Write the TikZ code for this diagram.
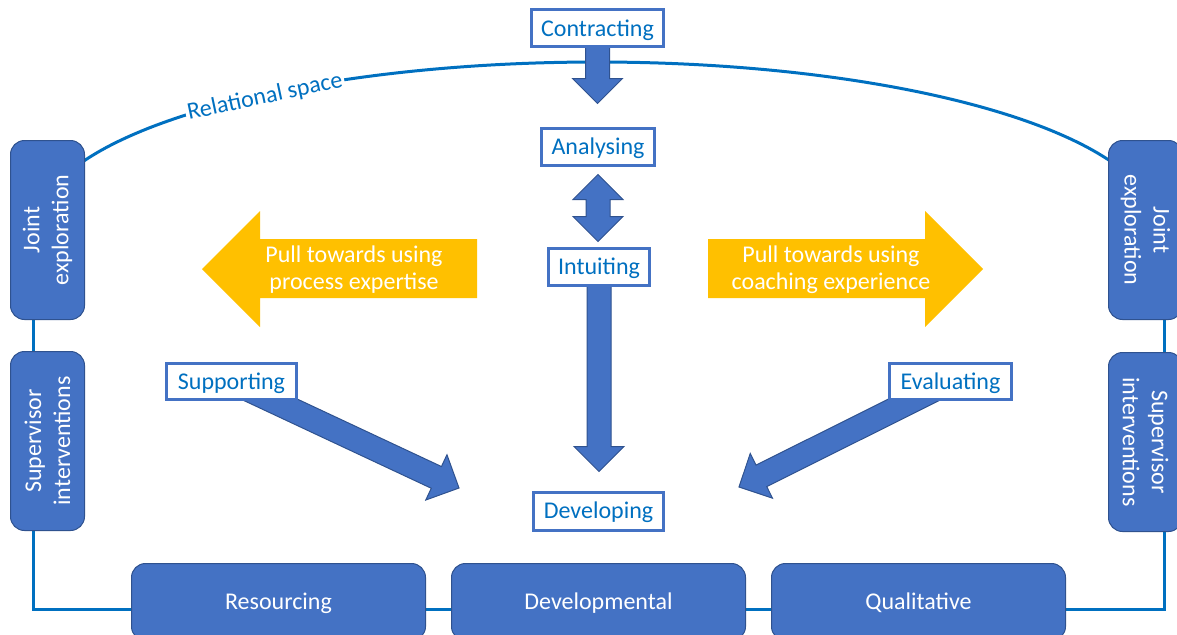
\documentclass[tikz,border=0pt]{standalone}
\usepackage{fontspec}
\setmainfont{Carlito}
\usetikzlibrary{calc}
\definecolor{accent}{HTML}{4472C4}
\definecolor{accentdark}{HTML}{2F528F}
\definecolor{linkblue}{HTML}{0070C0}
\definecolor{gold}{HTML}{FFC000}
\pgfdeclarelayer{lines}
\pgfdeclarelayer{arrows}
\pgfsetlayers{lines,arrows,main}

% block arrow: #1 tail, #2 tip, #3 prefix for helper coordinates
\newcommand\blockarrow[3]{%
  \coordinate (#3h) at ($(#2)!25pt!(#1)$);
  \path[blockarrow] ($(#1)!12pt!90:(#2)$) -- ($(#3h)!12pt!90:(#2)$)
    -- ($(#3h)!25pt!90:(#2)$) -- (#2) -- ($(#3h)!25pt!-90:(#2)$)
    -- ($(#3h)!12pt!-90:(#2)$) -- ($(#1)!12pt!-90:(#2)$) -- cycle;
}
% double-headed block arrow between two tips
\newcommand\dblarrow[3]{%
  \coordinate (#3a) at ($(#1)!25pt!(#2)$);
  \coordinate (#3b) at ($(#2)!25pt!(#1)$);
  \path[blockarrow] (#1) -- ($(#3a)!25pt!90:(#2)$) -- ($(#3a)!12pt!90:(#2)$)
    -- ($(#3b)!12pt!90:(#2)$) -- ($(#3b)!25pt!90:(#2)$) -- (#2)
    -- ($(#3b)!25pt!-90:(#2)$) -- ($(#3b)!12pt!-90:(#2)$)
    -- ($(#3a)!12pt!-90:(#2)$) -- ($(#3a)!25pt!-90:(#2)$) -- cycle;
}

\begin{document}
\begin{tikzpicture}[x=1pt,y=-1pt,
  font=\fontsize{24}{29}\selectfont,
  outlinebox/.style={draw=accent, line width=3pt, fill=white, text=linkblue,
    minimum height=37, inner sep=0pt, text height=15.5pt, text depth=0pt},
  sidebox/.style={draw=accentdark, line width=1pt, fill=accent, text=white,
    rounded corners=14pt, align=center, inner sep=0pt,
    minimum width=179, minimum height=74},
  basebox/.style={draw=accentdark, line width=1pt, fill=accent, text=white,
    rounded corners=14pt, minimum width=294, minimum height=77, inner sep=0pt,
    text height=15.5pt, text depth=0pt},
  link/.style={draw=linkblue, line width=3pt},
  blockarrow/.style={fill=accent, draw=accentdark, line width=1pt},
  pull/.style={fill=gold},
  pulltext/.style={text=white, align=center, font=\fontsize{24}{27}\selectfont},
]
\useasboundingbox (0,0) rectangle (1177,634);
\clip (0,0) rectangle (1177,634);

% process steps
\node[outlinebox, minimum width=132] (con) at (597.5,28.5) {Contracting};
\node[outlinebox, minimum width=113] (ana) at (598,146.5) {Analysing};
\node[outlinebox, minimum width=101] (int) at (599,266.5) {Intuiting};
\node[outlinebox, minimum width=130, minimum height=38] (dev) at (598.5,511) {Developing};
\node[outlinebox, minimum width=130, minimum height=36] (sup) at (231.5,381.5) {Supporting};
\node[outlinebox, minimum width=122, minimum height=36] (eva) at (950.5,381.5) {Evaluating};

% side panels
\node[sidebox, rotate=90] (jl) at (47.5,230) {Joint\\exploration};
\node[sidebox, rotate=90] (sl) at (47.5,441) {Supervisor\\interventions};
\node[sidebox, rotate=-90] (jr) at (1145.5,230) {Joint\\exploration};
\node[sidebox, rotate=-90] (sr) at (1145.5,442) {Supervisor\\interventions};

% base row
\node[basebox] (res) at (278.5,602) {Resourcing};
\node[basebox] (dvm) at (598.5,602) {Developmental};
\node[basebox] (qual) at (918.5,602) {Qualitative};

% relational space arc and frame lines
\begin{pgfonlayer}{lines}
  \draw[link] plot[domain=158:22, samples=120] ({597+560*cos(\x)}, {227-165*sin(\x)});
  \coordinate (lx) at (33,0);
  \coordinate (rx) at (1164,0);
  \coordinate (bus) at (0,609);
  \draw[link] (lx |- jl.west) -- (lx |- sl.east);
  \draw[link] (rx |- jr.east) -- (rx |- sr.west);
  \draw[link] (lx |- sl.west) -- (lx |- bus) -- (res.west |- bus);
  \draw[link] (res.east |- bus) -- (dvm.west |- bus);
  \draw[link] (dvm.east |- bus) -- (qual.west |- bus);
  \draw[link] (qual.east |- bus) -- (rx |- bus) -- (rx |- sr.east);
\end{pgfonlayer}

\node[fill=white, text=linkblue, rotate=12, inner sep=2pt] (rel) at (265,97) {Relational space};

% flow arrows
\begin{pgfonlayer}{arrows}
  \coordinate (conTip) at ($(con.center |- ana.north)+(0,-23)$);
  \blockarrow{con.center}{conTip}{ca}
  \coordinate (daTop) at ($(ana.south)+(0,8)$);
  \coordinate (daBot) at ($(ana.south |- int.north)+(0,-5)$);
  \dblarrow{daTop}{daBot}{da}
  \coordinate (intTip) at ($(int.center |- dev.north)+(0,-19)$);
  \blockarrow{int.center}{intTip}{ia}
  \coordinate (supTip) at (459,488);
  \blockarrow{sup.center}{supTip}{sa}
  \coordinate (evaTip) at (739,487);
  \blockarrow{eva.center}{evaTip}{ea}

  % pulls
  \fill[pull] (202,269) -- (260,211) -- (260,239) -- (477,239) -- (477,298)
    -- (260,298) -- (260,327) -- cycle;
  \fill[pull] (708,239) -- (925,239) -- (925,211) -- (983,269) -- (925,327)
    -- (925,298) -- (708,298) -- cycle;
\end{pgfonlayer}
\node[pulltext] (pullL) at (354,270) {Pull towards using\\process expertise};
\node[pulltext] (pullR) at (831,270) {Pull towards using\\coaching experience};
\end{tikzpicture}
\end{document}
